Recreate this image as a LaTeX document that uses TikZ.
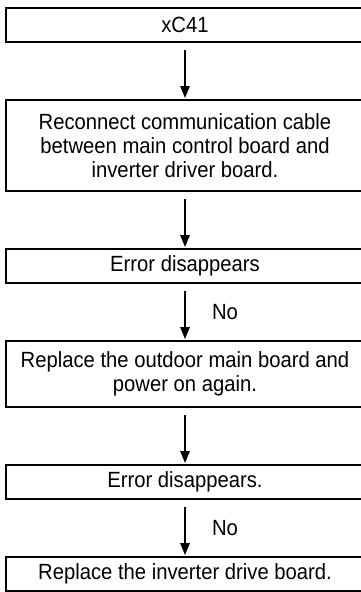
\documentclass[tikz,border=0pt]{standalone}
\usepackage{fontspec}
\setmainfont[FakeStretch=0.92]{Liberation Sans}
\usepackage{tikz}
\usetikzlibrary{arrows.meta,positioning}
\tikzset{
  box/.style={draw, line width=2pt, minimum width=358pt, minimum height=34pt, align=center, inner sep=0pt, font=\fontsize{22}{24}\selectfont},
  arr/.style={-{Triangle[width=9.5pt,length=12pt]}, line width=1.4pt, shorten <=7pt, shorten >=1pt},
  lbl/.style={font=\fontsize{22}{24}\selectfont, right=23pt}
}
\begin{document}
\begin{tikzpicture}[x=1pt, y=1pt, node distance=56pt]
\useasboundingbox (0,0) rectangle (360,-592);
\node[box] (code) at (185,-25) {xC41};
\node[box, below=of code, minimum height=91pt] (reconnect) {Reconnect communication cable\\between main control board and\\inverter driver board.};
\node[box, below=of reconnect] (check1) {Error disappears};
\node[box, below=of check1, minimum height=66pt] (mainboard) {Replace the outdoor main board and\\power on again.};
\node[box, below=of mainboard] (check2) {Error disappears.};
\node[box, below=of check2] (driveboard) {Replace the inverter drive board.};
\draw[arr] (code) -- (reconnect);
\draw[arr] (reconnect) -- (check1);
\draw[arr] (check1) -- node[lbl] {No} (mainboard);
\draw[arr] (mainboard) -- (check2);
\draw[arr] (check2) -- node[lbl] {No} (driveboard);
\end{tikzpicture}
\end{document}
